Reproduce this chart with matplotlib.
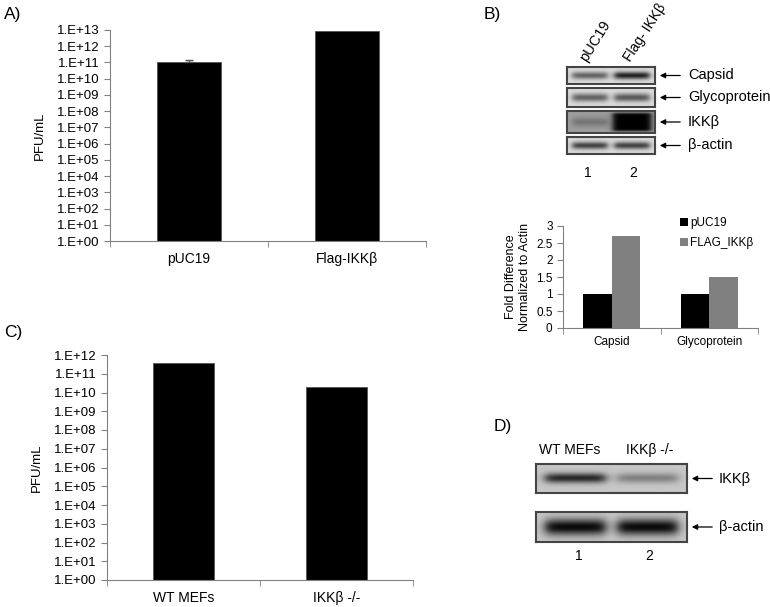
import numpy as np
import matplotlib
matplotlib.use("Agg")
import matplotlib.pyplot as plt

plt.rcParams['font.family'] = ['Liberation Sans', 'DejaVu Sans']

# ---------------- data ----------------
# panel A: virus titre after transfection
a_labels = ["pUC19", "Flag-IKK\u03b2"]
a_values = [1.1e11, 9.0e12]
a_err_up = [0.3e11, 0.0]

# panel B: band quantification
b_groups = ["Capsid", "Glycoprotein"]
b_puc19 = [1.0, 1.0]
b_flag = [2.7, 1.5]
b_series = ["pUC19", "FLAG_IKK\u03b2"]

# panel C: virus titre in MEFs
c_labels = ["WT MEFs", "IKK\u03b2 -/-"]
c_values = [3.9e11, 1.9e10]

# blots (band strength per lane, 0..1)
blot_b_rows = ["Capsid", "Glycoprotein", "IKK\u03b2", "\u03b2-actin"]
blot_b_bands = [[0.55, 0.85], [0.55, 0.6], [0.25, 1.0], [0.7, 0.7]]
blot_b_lanes = ["pUC19", "Flag- IKK\u03b2"]
blot_d_rows = ["IKK\u03b2", "\u03b2-actin"]
blot_d_bands = [[0.8, 0.35], [0.95, 0.95]]
blot_d_lanes = ["WT MEFs", "IKK\u03b2 -/-"]

W, H = 770, 607
fig = plt.figure(figsize=(W / 100, H / 100), dpi=100)


def px(x0, y0, x1, y1):
    return [x0 / W, 1 - y1 / H, (x1 - x0) / W, (y1 - y0) / H]


def fig_text(x, y, s, **kw):
    fig.text(x / W, 1 - y / H, s, **kw)


def excel_axes(ax):
    for s in ["top", "right"]:
        ax.spines[s].set_visible(False)
    for s in ["left", "bottom"]:
        ax.spines[s].set_color("#808080")
        ax.spines[s].set_linewidth(0.8)
    ax.tick_params(axis="y", direction="out", length=4, color="#808080")
    ax.tick_params(axis="x", which="major", length=0, pad=8)
    ax.set_xticks([-0.5, 0.5, 1.5], minor=True)
    ax.tick_params(axis="x", which="minor", length=4, color="#808080")


def log_panel(rect, labels, values, top_exp, err=None):
    ax = fig.add_axes(px(*rect))
    x = np.arange(len(labels))
    ax.bar(x, values, width=0.4, color="black", edgecolor="#555555", linewidth=0.6)
    if err is not None:
        ax.errorbar(x[:1], values[:1], yerr=[[0], err[:1]], fmt="none",
                    ecolor="#555555", capsize=3, elinewidth=0.8)
    ax.set_yscale("log")
    ax.set_ylim(1, 10.0 ** top_exp)
    ticks = [10.0 ** e for e in range(top_exp + 1)]
    ax.set_yticks(ticks)
    ax.set_yticklabels(["1.E+%02d" % e for e in range(top_exp + 1)], fontsize=9.5)
    ax.minorticks_off()
    ax.set_xlim(-0.5, 1.5)
    ax.set_xticks(x)
    ax.set_xticklabels(labels, fontsize=10)
    excel_axes(ax)
    ax.set_ylabel("PFU/mL", fontsize=9.5, labelpad=8)
    return ax


log_panel((110, 30, 426, 241), a_labels, a_values, 13, err=a_err_up)
log_panel((107, 355, 413, 580), c_labels, c_values, 12)

# panel B bar chart
axb = fig.add_axes(px(563, 226, 758, 328))
xb = np.arange(len(b_groups))
axb.bar(xb - 0.145, b_puc19, width=0.29, color="black", label=b_series[0])
axb.bar(xb + 0.145, b_flag, width=0.29, color="#808080", label=b_series[1])
axb.set_ylim(0, 3)
axb.set_yticks(np.arange(0, 3.01, 0.5))
axb.set_yticklabels(["0", "0.5", "1", "1.5", "2", "2.5", "3"], fontsize=8.5)
axb.set_xlim(-0.5, 1.5)
axb.set_xticks(xb)
axb.set_xticklabels(b_groups, fontsize=8.5)
excel_axes(axb)
axb.tick_params(axis="x", which="major", pad=6)
axb.set_ylabel("Fold Difference\nNormalized to Actin", fontsize=9, labelpad=4)
axb.legend(loc="upper left", bbox_to_anchor=((675 - 563) / 195, 1.13), frameon=False,
           fontsize=8.5, handlelength=0.7, handleheight=0.7, handletextpad=0.2,
           labelspacing=0.65, borderaxespad=0)


# ---------------- blots ----------------
def blot_image(bands, dark_bg=False, big=False, thick=0.22, bg=None):
    nx, ny = 200, 40
    xx = np.linspace(0, 1, nx)[None, :]
    yy = np.linspace(0, 1, ny)[:, None]
    if bg is None:
        bg = 0.62 if dark_bg else 0.86
    img = np.full((ny, nx), bg)
    lane_c = [0.26, 0.74]
    for c, s in zip(lane_c, bands):
        half = 0.2 if s < 0.9 or not big else 0.22
        xprof = 1 / (1 + np.exp(-(xx - (c - half)) / 0.02)) * \
            1 / (1 + np.exp((xx - (c + half)) / 0.02))
        if big and s >= 0.99:
            yprof = 1 / (1 + np.exp(-(yy - 0.08) / 0.03)) * \
                1 / (1 + np.exp((yy - 0.92) / 0.03))
        else:
            yprof = np.exp(-((yy - 0.5) / thick) ** 2)
        img = img - s * bg * xprof * yprof
    return np.clip(img, 0, 1)


def draw_blot(rect, bands, label, arrow_x, label_x, **kw):
    ax = fig.add_axes(px(*rect))
    ax.imshow(blot_image(bands, **kw), cmap="gray", vmin=0, vmax=1,
              aspect="auto", interpolation="bilinear")
    ax.set_xticks([])
    ax.set_yticks([])
    for s in ax.spines.values():
        s.set_color("#444444")
        s.set_linewidth(1.5)
    yc = (rect[1] + rect[3]) / 2
    fig.add_artist(matplotlib.patches.FancyArrowPatch(
        (arrow_x[1] / W, 1 - yc / H), (arrow_x[0] / W, 1 - yc / H),
        arrowstyle="-|>", mutation_scale=8, color="black", lw=0.9))
    fig_text(label_x, yc, label, fontsize=10.5, va="center", ha="left")


b_boxes = [(567, 67, 655, 84), (567, 88, 655, 107), (567, 111, 655, 133), (567, 137, 655, 154)]
for i, (box, row) in enumerate(zip(b_boxes, blot_b_rows)):
    draw_blot(box, blot_b_bands[i], row, (657, 683), 688,
              dark_bg=(i == 2), big=(i == 2), thick=0.22)

d_boxes = [(536, 464, 687, 493), (536, 512, 687, 542)]
for i, (box, row) in enumerate(zip(d_boxes, blot_d_rows)):
    draw_blot(box, blot_d_bands[i], row, (689, 715), 719,
              thick=0.17 if i == 0 else 0.28, bg=0.78)

# lane labels
fig_text(589, 64, blot_b_lanes[0], fontsize=10.5, rotation=58, ha="left", va="bottom",
         rotation_mode="anchor")
fig_text(633, 64, blot_b_lanes[1], fontsize=10, rotation=57, ha="left", va="bottom",
         rotation_mode="anchor")
fig_text(588, 173, "1", fontsize=10, ha="center", va="center")
fig_text(633, 173, "2", fontsize=10, ha="center", va="center")
fig_text(570, 450, blot_d_lanes[0], fontsize=10, ha="center", va="center")
fig_text(650, 450, blot_d_lanes[1], fontsize=10, ha="center", va="center")
fig_text(579, 556, "1", fontsize=10, ha="center", va="center")
fig_text(649, 556, "2", fontsize=10, ha="center", va="center")

# panel letters
fig_text(4, 15, "A)", fontsize=12.5, va="center")
fig_text(484, 15, "B)", fontsize=12.5, va="center")
fig_text(4, 332, "C)", fontsize=12.5, va="center")
fig_text(494, 427, "D)", fontsize=12.5, va="center")

fig.savefig("out.png", dpi=100)
